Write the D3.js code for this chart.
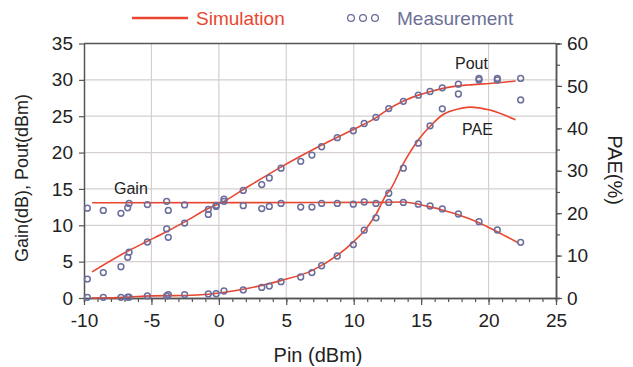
<!DOCTYPE html>
<html>
<head>
<meta charset="utf-8">
<script src="https://cdn.jsdelivr.net/npm/d3@7"></script>
<style>
  body { margin: 0; background: #fff; }
  text { font-family: "Liberation Sans", Arial, sans-serif; }
</style>
</head>
<body>
<div id="chart"></div>
<script>
// measured points (Pin in dBm)
var measPin  = [-9.75, -8.57, -7.26, -6.76, -6.66, -5.3, -3.87, -3.75, -2.54, -0.78, -0.2, 0.38, 1.81, 3.18, 3.74, 4.61, 6.07, 6.9, 7.62, 8.78, 9.97, 10.78, 11.65, 12.6, 13.68, 14.79, 15.66, 16.57, 17.76, 19.29, 20.65, 22.38];
var measGain = [12.35, 12.05, 11.65, 12.4, 13.0, 12.85, 13.3, 12.05, 12.8, 12.2, 12.75, 13.3, 12.7, 12.3, 12.6, 13.0, 12.5, 12.5, 13.0, 13.0, 12.9, 13.2, 13.0, 13.15, 13.15, 12.9, 12.65, 12.25, 11.55, 10.5, 9.35, 7.66];
var measPout = [2.6, 3.5, 4.3, 5.6, 6.3, 7.7, 9.5, 8.35, 10.3, 11.5, 12.6, 13.6, 14.8, 15.6, 16.5, 17.85, 18.8, 19.65, 20.8, 22.05, 23.0, 24.0, 24.85, 26.05, 27.05, 27.9, 28.4, 28.9, 29.4, 30.2, 30.2, 30.2];
var measPae  = [0.15, 0.15, 0.15, 0.2, 0.2, 0.5, 0.5, 0.8, 0.8, 0.95, 1.0, 1.65, 1.9, 2.5, 2.8, 3.85, 4.95, 6.0, 7.6, 9.9, 12.6, 16.0, 18.9, 24.7, 30.6, 36.5, 40.6, 44.6, 48.1, 51.4, 51.4, 46.7];

// simulation curves
var simGainPin = [-9.4, 12, 13.5, 14.5, 15.5, 16.5, 17.75, 19.3, 20.6, 22.2];
var simGainVal = [13.1, 13.15, 13.2, 13.0, 12.6, 12.15, 11.45, 10.35, 9.15, 7.6];
var simPoutPin = [-9.4, -6.7, -5.3, -3.9, -2.5, -0.8, 0.3, 1.8, 4.6, 7.6, 10, 11.7, 12.6, 13.7, 14.8, 15.7, 17.1, 18.5, 20.1, 22];
var simPoutVal = [3.6, 6.5, 7.8, 9.1, 10.5, 12.3, 13.2, 14.9, 18.0, 21.0, 23.2, 24.85, 26.0, 27.1, 27.9, 28.4, 29.0, 29.3, 29.5, 29.85];
var simPaePin  = [-9.4, -7.5, -6.7, -5.1, -2.5, -0.8, 0.3, 1.8, 4.6, 6.9, 8.8, 10, 11, 11.7, 12.4, 12.7, 13.7, 14.8, 15.7, 16.6, 17.8, 18.6, 20.1, 22];
var simPaeVal  = [0, 0.1, 0.2, 0.5, 0.6, 0.9, 1.3, 2.05, 4.1, 6.45, 10.1, 13.3, 16.7, 20.0, 24.3, 25.5, 31.8, 37.3, 40.6, 43.2, 44.6, 45.0, 44.3, 42.0];

var xTicks = [-10, -5, 0, 5, 10, 15, 20, 25];
var yLeftTicks = [0, 5, 10, 15, 20, 25, 30, 35];
var yRightTicks = [0, 10, 20, 30, 40, 50, 60];

var W = 633, H = 367;
var red = "#e9462f", blue = "#6a6e9c", axisCol = "#555", gridCol = "#d6cfcf";

var svg = d3.select("#chart").append("svg").attr("width", W).attr("height", H);

var x = d3.scaleLinear().domain([-10, 25]).range([84, 556]);
var yL = d3.scaleLinear().domain([0, 35]).range([298, 43.5]);
var yR = d3.scaleLinear().domain([0, 60]).range([298, 43.5]);

// grid
var grid = svg.append("g");
grid.selectAll(".vg").data(xTicks.slice(1, -1)).enter().append("line")
  .attr("x1", d => x(d)).attr("x2", d => x(d))
  .attr("y1", yL(0)).attr("y2", yL(35))
  .attr("stroke", gridCol).attr("stroke-width", 1.2);
grid.selectAll(".hg").data(yLeftTicks.slice(1, -1)).enter().append("line")
  .attr("x1", x(-10)).attr("x2", x(25))
  .attr("y1", d => yL(d)).attr("y2", d => yL(d))
  .attr("stroke", gridCol).attr("stroke-width", 1.2);
// top border
svg.append("line").attr("x1", x(-10)).attr("x2", x(25))
  .attr("y1", yL(35)).attr("y2", yL(35)).attr("stroke", axisCol).attr("stroke-width", 1.5);

var plain = d => String(d);   // keep ascii hyphen for negatives

function styleAxis(g) {
  g.select(".domain").attr("stroke", axisCol).attr("stroke-width", 1.5);
  g.selectAll(".tick line").attr("stroke", axisCol).attr("stroke-width", 1.2);
  g.selectAll(".tick text").attr("fill", "#222").style("font-size", "19px");
}

// bottom axis: minor then major
svg.append("g").attr("transform", "translate(0," + yL(0) + ")")
  .call(d3.axisBottom(x).tickValues(d3.range(-10, 26, 1)).tickSize(4).tickFormat(""))
  .call(styleAxis);
svg.append("g").attr("transform", "translate(0," + yL(0) + ")")
  .call(d3.axisBottom(x).tickValues(xTicks).tickSize(7).tickSizeOuter(0).tickPadding(9).tickFormat(plain))
  .call(styleAxis);

// left axis
svg.append("g").attr("transform", "translate(" + x(-10) + ",0)")
  .call(d3.axisLeft(yL).tickValues(yLeftTicks).tickSize(5).tickSizeOuter(0).tickPadding(6).tickFormat(plain))
  .call(styleAxis);

// right axis
svg.append("g").attr("transform", "translate(" + x(25) + ",0)")
  .call(d3.axisRight(yR).tickValues(d3.range(0, 61, 5)).tickSize(4).tickFormat(""))
  .call(styleAxis);
svg.append("g").attr("transform", "translate(" + x(25) + ",0)")
  .call(d3.axisRight(yR).tickValues(yRightTicks).tickSize(6).tickSizeOuter(0).tickPadding(5).tickFormat(plain))
  .call(styleAxis);

// simulation lines
function simLine(pins, vals, y) {
  var pts = pins.map((p, i) => [p, vals[i]]);
  svg.append("path").datum(pts)
    .attr("fill", "none").attr("stroke", red).attr("stroke-width", 1.6)
    .attr("d", d3.line().x(d => x(d[0])).y(d => y(d[1])).curve(d3.curveMonotoneX));
}
simLine(simGainPin, simGainVal, yL);
simLine(simPoutPin, simPoutVal, yL);
simLine(simPaePin, simPaeVal, yR);

// measurement circles
function meas(vals, y) {
  svg.append("g").selectAll("circle").data(vals).enter().append("circle")
    .attr("cx", (d, i) => x(measPin[i])).attr("cy", d => y(d)).attr("r", 2.9)
    .attr("fill", "none").attr("stroke", blue).attr("stroke-width", 1.5);
}
meas(measGain, yL);
meas(measPout, yL);
meas(measPae, yR);

// curve labels
svg.append("text").attr("x", 114).attr("y", 194).text("Gain").style("font-size", "16px").attr("fill", "#222");
svg.append("text").attr("x", 455).attr("y", 69).text("Pout").style("font-size", "16px").attr("fill", "#222");
svg.append("text").attr("x", 462).attr("y", 135).text("PAE").style("font-size", "16px").attr("fill", "#222");

// axis titles
svg.append("text").attr("x", 318).attr("y", 362).attr("text-anchor", "middle")
  .style("font-size", "20px").attr("fill", "#222").text("Pin (dBm)");
svg.append("text").attr("transform", "translate(28,178) rotate(-90)").attr("text-anchor", "middle")
  .style("font-size", "18px").attr("fill", "#222").text("Gain(dB), Pout(dBm)");
svg.append("text").attr("transform", "translate(608,170) rotate(90)").attr("text-anchor", "middle")
  .style("font-size", "20px").attr("fill", "#222").text("PAE(%)");

// legend
var lg = svg.append("g");
lg.append("line").attr("x1", 132).attr("x2", 188).attr("y1", 18).attr("y2", 18)
  .attr("stroke", red).attr("stroke-width", 2.5);
lg.append("text").attr("x", 196).attr("y", 25).style("font-size", "19px").attr("fill", red).text("Simulation");
lg.selectAll("circle").data([0, 1, 2]).enter().append("circle")
  .attr("cx", d => 351 + d * 12).attr("cy", 18).attr("r", 3.4)
  .attr("fill", "none").attr("stroke", blue).attr("stroke-width", 1.3);
lg.append("text").attr("x", 397).attr("y", 25).style("font-size", "19px").attr("fill", "#6b6f96").text("Measurement");
</script>
</body>
</html>
